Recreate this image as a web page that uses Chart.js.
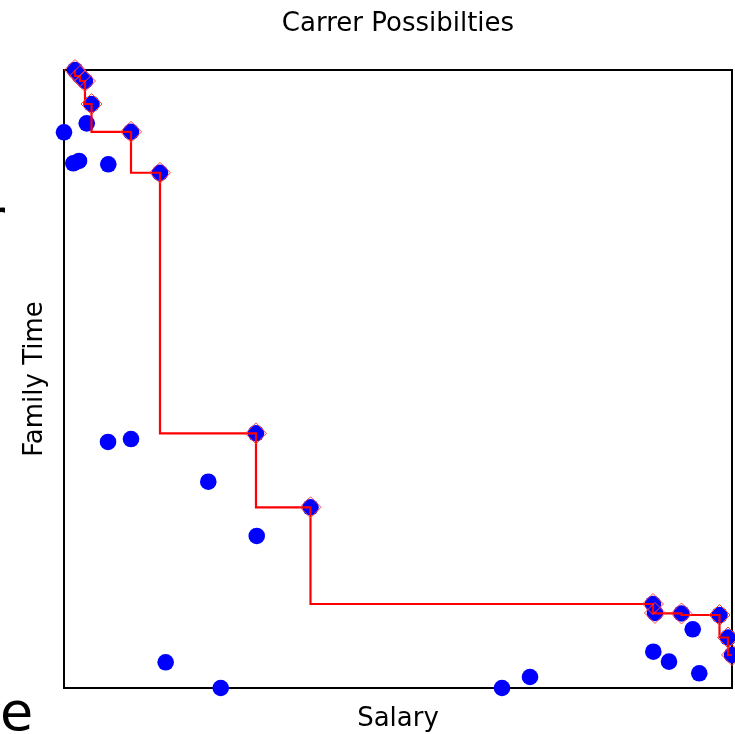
<!DOCTYPE html>
<html>
<head>
<meta charset="utf-8">
<script src="https://cdn.jsdelivr.net/npm/chart.js@4/dist/chart.umd.min.js"></script>
<style>
  html, body { margin: 0; padding: 0; background: #ffffff; }
  #wrap { width: 735px; height: 734px; position: relative; }
  canvas { display: block; }
</style>
</head>
<body>
<div id="wrap"><canvas id="c" width="735" height="734"></canvas></div>
<script>
// ---- data ----
const chartTitle = 'Carrer Possibilties';
const xLabel = 'Salary';
const yLabel = 'Family Time';

// Pareto frontier (red step line with diamond markers)
const frontierSalary = [1.65, 2.40, 3.14, 4.12, 10.03, 14.37, 28.74, 36.90, 88.17, 88.47, 92.44, 98.13, 99.40, 100.0];
const frontierFamily = [100.0, 99.03, 98.22, 94.50, 90.00, 83.37, 41.21, 29.24, 13.59, 12.14, 12.06, 11.81, 8.17, 5.34];

// remaining career options (blue dots only)
const otherSalary = [0.0, 3.40, 1.39, 2.25, 6.63, 6.59, 10.03, 21.60, 28.85, 15.22, 23.46, 65.57, 69.76, 94.12, 88.22, 90.57, 95.10];
const otherFamily = [89.92, 91.37, 84.90, 85.28, 84.74, 39.81, 40.29, 33.38, 24.60, 4.16, 0.0, 0.0, 1.78, 9.50, 5.87, 4.26, 2.38];

// cut-off text fragments at the left edge of the picture
const edgeTexts = ['r', 'e'];

// ---- build datasets ----
const frontierPts = frontierSalary.map((x, i) => ({ x: x, y: frontierFamily[i] }));
const otherPts = otherSalary.map((x, i) => ({ x: x, y: otherFamily[i] }));
const allPts = frontierPts.concat(otherPts);

const FONT = 'DejaVu Sans';

const edgeTextPlugin = {
  id: 'edgeText',
  afterDraw(chart) {
    const ctx = chart.ctx;
    ctx.save();
    ctx.fillStyle = '#000000';
    ctx.textBaseline = 'alphabetic';
    ctx.textAlign = 'left';
    ctx.font = '56px "' + FONT + '"';
    ctx.fillText(edgeTexts[0], -18, 238);
    ctx.font = '54px "' + FONT + '"';
    ctx.fillText(edgeTexts[1], 0, 730);
    ctx.restore();
  }
};

const axisBorder = { display: true, color: '#000000', width: 2 };

new Chart(document.getElementById('c'), {
  type: 'scatter',
  data: {
    datasets: [
      {
        label: 'frontier',
        data: frontierPts,
        order: 0,
        showLine: true,
        stepped: 'after',
        borderColor: '#ff0000',
        borderWidth: 2.2,
        fill: false,
        pointStyle: 'rectRot',
        pointRadius: 10.5,
        pointBackgroundColor: 'rgba(0,0,0,0)',
        pointBorderColor: '#ff4040',
        pointBorderWidth: 1,
        clip: false
      },
      {
        label: 'options',
        data: allPts,
        order: 1,
        showLine: false,
        pointStyle: 'circle',
        pointRadius: 8.3,
        pointBackgroundColor: '#0000ff',
        pointBorderColor: '#0000ff',
        pointBorderWidth: 0,
        clip: false
      }
    ]
  },
  options: {
    responsive: false,
    devicePixelRatio: 1,
    animation: false,
    events: [],
    layout: { autoPadding: false, padding: { left: 0, right: 3, top: 0, bottom: 0 } },
    plugins: {
      legend: { display: false },
      tooltip: { enabled: false },
      title: { display: false }
    },
    scales: {
      x: {
        type: 'linear', position: 'bottom', min: 0, max: 100,
        grid: { display: false, drawTicks: false },
        ticks: { display: false },
        border: axisBorder,
        title: {
          display: true, text: xLabel, color: '#000000',
          font: { family: FONT, size: 26, weight: 'normal', lineHeight: 1.1 },
          padding: { top: 17.4, bottom: 0 }
        }
      },
      x2: {
        type: 'linear', position: 'top', min: 0, max: 100,
        grid: { display: false, drawTicks: false },
        ticks: { display: false },
        border: axisBorder,
        title: {
          display: true, text: chartTitle, color: '#000000',
          font: { family: FONT, size: 26, weight: 'normal', lineHeight: 1.2 },
          padding: { top: 9, bottom: 29.8 }
        }
      },
      y: {
        type: 'linear', position: 'left', min: 0, max: 100,
        grid: { display: false, drawTicks: false },
        ticks: { display: false },
        border: axisBorder,
        title: {
          display: true, text: yLabel, color: '#000000',
          font: { family: FONT, size: 26, weight: 'normal', lineHeight: 1.2 },
          padding: { top: 19.4, bottom: 13.4 }
        }
      },
      y2: {
        type: 'linear', position: 'right', min: 0, max: 100,
        grid: { display: false, drawTicks: false },
        ticks: { display: false },
        border: axisBorder
      }
    }
  },
  plugins: [edgeTextPlugin]
});
</script>
</body>
</html>
